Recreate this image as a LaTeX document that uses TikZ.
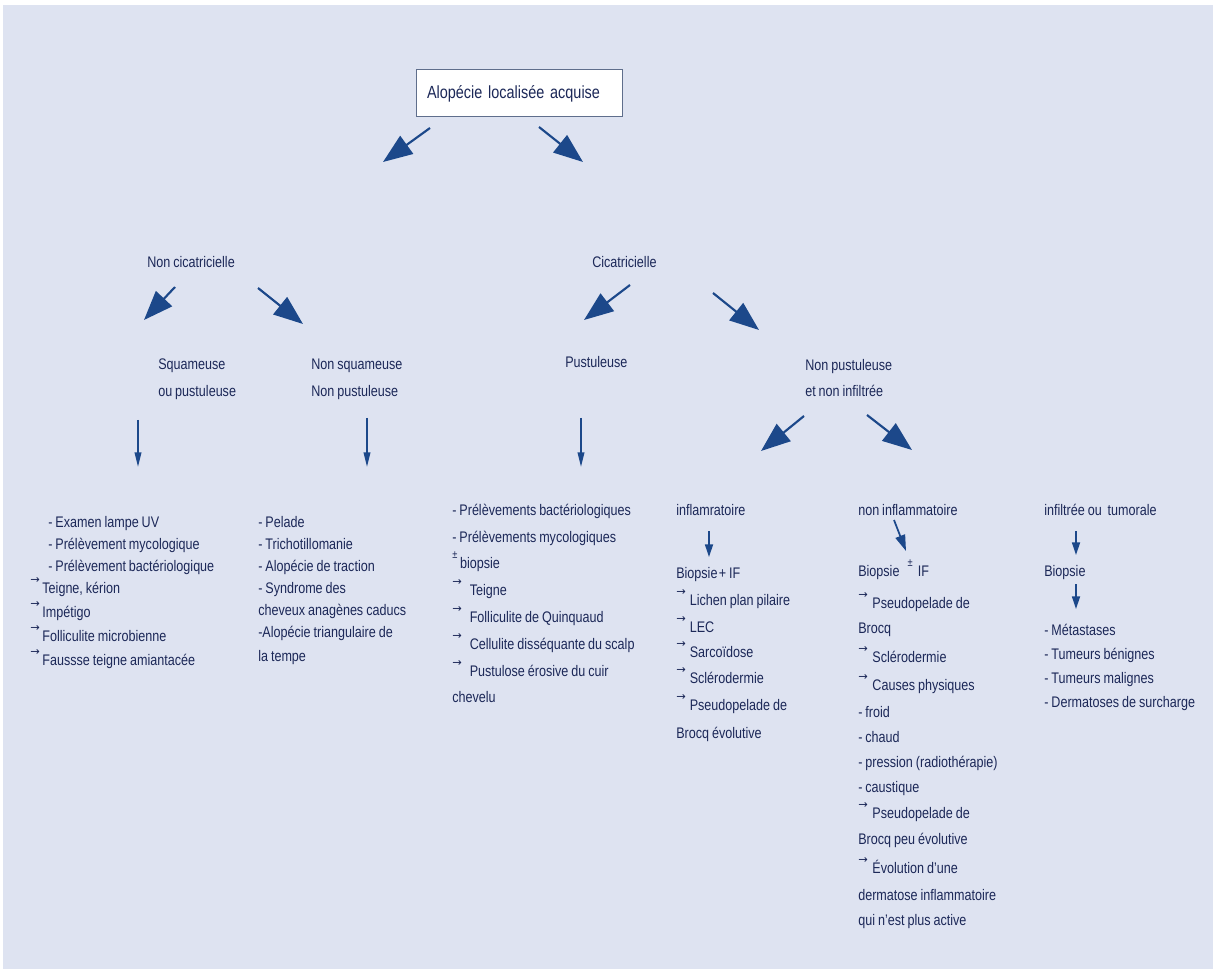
\documentclass[tikz,border=0pt]{standalone}
\usepackage{fontspec}
\setmainfont{Liberation Sans}[FakeStretch=0.82,WordSpace=0.85]
\newfontfamily\arrfont{DejaVu Sans}
\usepackage{tikz}
\usetikzlibrary{arrows.meta}

\definecolor{panelbg}{RGB}{222,227,241}
\definecolor{txtblue}{RGB}{28,40,88}
\definecolor{arrblue}{RGB}{28,72,138}
\definecolor{boxline}{RGB}{95,110,140}

% small raised arrow and plus-minus in front of list items
\newcommand\ra[1][2pt]{\raisebox{7.5pt}{\arrfont\fontsize{8.5}{8.5}\selectfont →}\hspace{#1}}
\newcommand\plusmin[1][2pt]{\raisebox{7pt}{\fontsize{8.5}{8.5}\selectfont ±}\hspace{#1}}

\begin{document}
\begin{tikzpicture}[x=0.75pt,y=0.75pt,yscale=-1,xscale=1,
  txt/.style={anchor=base west,inner sep=0pt,text=txtblue,font=\fontsize{11.5}{13}\selectfont},
  bigarr/.style={draw=arrblue,line width=1.6pt,-{Triangle[length=22pt,width=16.5pt]}},
  thinarr/.style={draw=arrblue,line width=1.2pt,-{Triangle[length=11pt,width=5pt]}},
  smallarr/.style={draw=arrblue,line width=1.3pt,-{Triangle[length=9.5pt,width=6pt]}}]
%set diagram from (0,0) to (1213,969)
\path[use as bounding box,fill=white] (0,0) rectangle (1213,969);
\fill[panelbg] (3,5) rectangle (1213,969);

% Title box
\draw (519,93.5) node (aloc) [draw=boxline,line width=0.75pt,fill=white,text=txtblue,inner xsep=8.25pt,inner ysep=0pt,minimum height=35.25pt,text width=138pt,align=left,font=\fontsize{13.2}{15}\selectfont] {Alopécie localisée acquise};

% Text Node
\draw (147,268) node (nc) [txt] {Non cicatricielle};
% Text Node
\draw (592,268) node (cic) [txt] {Cicatricielle};
% Text Node
\draw (158,370) node (sqa) [txt] {Squameuse};
\draw (158,397) node (sqb) [txt] {ou pustuleuse};
% Text Node
\draw (311,370) node (nsqa) [txt] {Non squameuse};
\draw (311,397) node (nsqb) [txt] {Non pustuleuse};
% Text Node
\draw (565,368) node (pus) [txt] {Pustuleuse};
% Text Node
\draw (805,371) node (npua) [txt] {Non pustuleuse};
\draw (805,397) node (npub) [txt] {et non infiltrée};

% Column: squameuse
\draw (48,527) node (sq1) [txt] {- Examen lampe UV};
\draw (48,549) node (sq2) [txt] {- Prélèvement mycologique};
\draw (48,571) node (sq3) [txt] {- Prélèvement bactériologique};
\draw (30,593) node (sq4) [txt] {\ra Teigne, kérion};
\draw (30,617) node (sq5) [txt] {\ra Impétigo};
\draw (30,641) node (sq6) [txt] {\ra Folliculite microbienne};
\draw (30,665) node (sq7) [txt] {\ra Faussse teigne amiantacée};

% Column: non squameuse
\draw (258,527) node (ns1) [txt] {- Pelade};
\draw (258,549) node (ns2) [txt] {- Trichotillomanie};
\draw (258,571) node (ns3) [txt] {- Alopécie de traction};
\draw (258,593) node (ns4) [txt] {- Syndrome des};
\draw (258,615) node (ns5) [txt] {cheveux anagènes caducs};
\draw (258,637) node (ns6) [txt] {-Alopécie triangulaire de};
\draw (258,661) node (ns7) [txt] {la tempe};

% Column: pustuleuse
\draw (452,515) node (pu1) [txt] {- Prélèvements bactériologiques};
\draw (452,542) node (pu2) [txt] {- Prélèvements mycologiques};
\draw (452,568) node (pu3) [txt] {\plusmin biopsie};
\draw (452,595) node (pu4) [txt] {\ra[6pt]Teigne};
\draw (452,622) node (pu5) [txt] {\ra[6pt]Folliculite de Quinquaud};
\draw (452,649) node (pu6) [txt] {\ra[6pt]Cellulite disséquante du scalp};
\draw (452,676) node (pu7) [txt] {\ra[6pt]Pustulose érosive du cuir};
\draw (452,702) node (pu8) [txt] {chevelu};

% Column: inflammatoire
\draw (676,515) node (in0) [txt] {inflamratoire};
\draw (676,578) node (in1) [txt] {Biopsie\kern1pt+ IF};
\draw (676,605) node (in2) [txt] {\ra[3pt]Lichen plan pilaire};
\draw (676,632) node (in3) [txt] {\ra[3pt]LEC};
\draw (676,657) node (in4) [txt] {\ra[3pt]Sarcoïdose};
\draw (676,683) node (in5) [txt] {\ra[3pt]Sclérodermie};
\draw (676,710) node (in6) [txt] {\ra[3pt]Pseudopelade de};
\draw (676,738) node (in7) [txt] {Brocq évolutive};

% Column: non inflammatoire
\draw (858,515) node (ni0) [txt] {non inflammatoire};
\draw (858,576) node (ni1) [txt] {Biopsie\hspace{6pt}\plusmin[4pt]IF};
\draw (858,608) node (ni2) [txt] {\ra[3.5pt]Pseudopelade de};
\draw (858,633) node (ni3) [txt] {Brocq};
\draw (858,662) node (ni4) [txt] {\ra[3.5pt]Sclérodermie};
\draw (858,690) node (ni5) [txt] {\ra[3.5pt]Causes physiques};
\draw (858,717) node (ni6) [txt] {- froid};
\draw (858,742) node (ni7) [txt] {- chaud};
\draw (858,767) node (ni8) [txt] {- pression (radiothérapie)};
\draw (858,792) node (ni9) [txt] {- caustique};
\draw (858,818) node (ni10) [txt] {\ra[3.5pt]Pseudopelade de};
\draw (858,844) node (ni11) [txt] {Brocq peu évolutive};
\draw (858,873) node (ni12) [txt] {\ra[3.5pt]Évolution d'une};
\draw (858,900) node (ni13) [txt] {dermatose inflammatoire};
\draw (858,925) node (ni14) [txt] {qui n'est plus active};

% Column: infiltree
\draw (1044,515) node (it0) [txt] {infiltrée ou\ \ tumorale};
\draw (1044,576) node (it1) [txt] {Biopsie};
\draw (1044,635) node (it2) [txt] {- Métastases};
\draw (1044,659) node (it3) [txt] {- Tumeurs bénignes};
\draw (1044,683) node (it4) [txt] {- Tumeurs malignes};
\draw (1044,707) node (it5) [txt] {- Dermatoses de surcharge};

% Arrow ends
\coordinate (a1s) at (430,128); \coordinate (a1e) at (383,162);
\coordinate (a2s) at (539,127); \coordinate (a2e) at (583,162);
\coordinate (a3s) at (175,287); \coordinate (a3e) at (144,320);
\coordinate (a4s) at (258,288); \coordinate (a4e) at (303,324);
\coordinate (a5s) at (630,285); \coordinate (a5e) at (584,320);
\coordinate (a6s) at (713,293); \coordinate (a6e) at (759,330);
\coordinate (a7s) at (804,416); \coordinate (a7e) at (761,451);
\coordinate (a8s) at (867,415); \coordinate (a8e) at (912,450);
\coordinate (v1s) at (138,420); \coordinate (v1e) at (138,467);
\coordinate (v2s) at (367,418); \coordinate (v2e) at (367,467);
\coordinate (v3s) at (581,418); \coordinate (v3e) at (581,467);
\coordinate (v4s) at (709,531); \coordinate (v4e) at (709,557);
\coordinate (v5s) at (1076,531); \coordinate (v5e) at (1076,555);
\coordinate (v6s) at (1076,584); \coordinate (v6e) at (1076,609);
\coordinate (d1s) at (894,520); \coordinate (d1e) at (906,551);

%Straight Lines
\draw[bigarr] (a1s) -- (a1e);
\draw[bigarr] (a2s) -- (a2e);
\draw[bigarr] (a3s) -- (a3e);
\draw[bigarr] (a4s) -- (a4e);
\draw[bigarr] (a5s) -- (a5e);
\draw[bigarr] (a6s) -- (a6e);
\draw[bigarr] (a7s) -- (a7e);
\draw[bigarr] (a8s) -- (a8e);
\draw[thinarr] (v1s) -- (v1e);
\draw[thinarr] (v2s) -- (v2e);
\draw[thinarr] (v3s) -- (v3e);
\draw[smallarr] (v4s) -- (v4e);
\draw[smallarr] (v5s) -- (v5e);
\draw[smallarr] (v6s) -- (v6e);
\draw[smallarr,-{Triangle[length=12pt,width=7.5pt]}] (d1s) -- (d1e);

\end{tikzpicture}
\end{document}
